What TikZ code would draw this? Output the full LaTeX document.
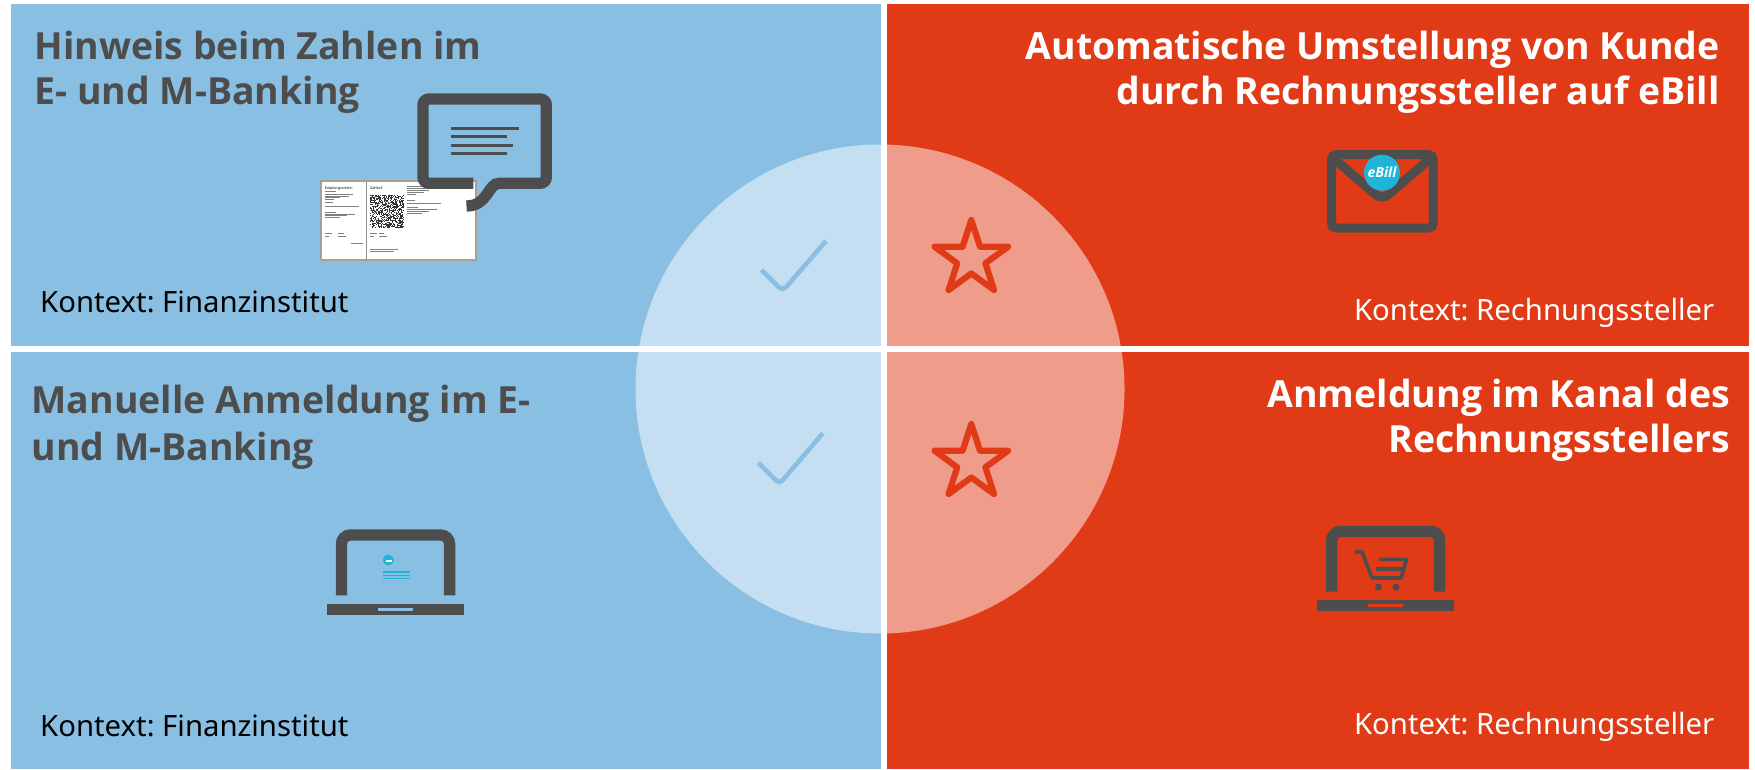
\documentclass[tikz,border=0pt]{standalone}
\usepackage{fontspec}
\setmainfont{Noto Sans}
\newfontfamily\headfont{Open Sans}
\definecolor{panelblue}{HTML}{89BFE3}
\definecolor{panelred}{HTML}{E03A17}
\definecolor{icongray}{HTML}{4D4D4D}
\definecolor{billcyan}{HTML}{1FB5D9}
\definecolor{billedge}{HTML}{A89F94}
\tikzstyle{heading}=[font=\headfont\fontsize{37.4}{44.8}\selectfont\bfseries, inner sep=0]
\tikzstyle{context}=[font=\fontsize{29.3}{34}\selectfont\frenchspacing, inner sep=0]
\tikzstyle{icon}=[draw=icongray, line width=11.3, rounded corners=6]
\tikzstyle{billbar}=[draw=black!50, line width=0.6]
\tikzstyle{tick}=[draw=panelblue, line width=4.6, rounded corners=5]
\tikzstyle{starmark}=[draw=panelred, line width=6.2, line join=round]

\begin{document}
\begin{tikzpicture}[x=1pt, y=-1pt]
      \useasboundingbox (0, 0) rectangle (1755, 769);

      \fill[panelblue] (11, 4) rectangle (881, 769);
      \fill[panelred] (881, 4) rectangle (1749, 769);
      \fill[white, opacity=0.5] (880, 389) circle (244.5);
      \fill[white] (881, 4) rectangle (887, 769);
      \fill[white] (11, 345.6) rectangle (1749, 352);

      \node[heading, anchor=base west, align=left, text=icongray] (hint) at (34.5, 104) {Hinweis beim Zahlen im\\E- und M-Banking};
      \node[heading, anchor=base east, align=right, text=white] (switch) at (1720, 104) {Automatische Umstellung von Kunde\\durch Rechnungssteller auf eBill};
      \node[heading, anchor=base west, align=left, text=icongray] (manual) at (31.5, 460) {Manuelle Anmeldung im E-\\[2pt]und M-Banking};
      \node[heading, anchor=base east, align=right, text=white] (channel) at (1730, 452) {Anmeldung im Kanal des\\Rechnungsstellers};

      \node[context, anchor=base west, text=black] (institute top) at (40, 312) {Kontext: Finanzinstitut};
      \node[context, anchor=base east, text=white] (biller top) at (1714.5, 320) {Kontext: Rechnungssteller};
      \node[context, anchor=base west, text=black] (institute bottom) at (40, 736) {Kontext: Finanzinstitut};
      \node[context, anchor=base east, text=white] (biller bottom) at (1714.5, 734) {Kontext: Rechnungssteller};

      \draw[draw=billedge, fill=white, line width=2] (320.7, 181) rectangle (475.7, 259.7);
      \draw[draw=black!45, line width=0.6] (366.3, 182) -- (366.3, 258.7);
      \node[font=\fontsize{3.6}{4}\selectfont, anchor=base west, inner sep=0] (receipt) at (324.6, 189) {Empfangsschein};
      \node[font=\fontsize{3.6}{4}\selectfont, anchor=base west, inner sep=0] (payment) at (370, 189) {Zahlteil};
      \foreach \barx/\bary/\barlen in {324.6/191.3/11, 324.6/194/28, 324.6/196/24, 324.6/197.7/15, 324.6/199.3/9,
        324.6/202.3/8, 324.6/206/34, 324.6/212/11, 324.6/214/30, 324.6/215.7/22, 324.6/217.5/15,
        324.6/233.3/7, 338/233.3/6, 324.6/236/4, 338/236/8, 351/243.7/12,
        370/233.3/7, 379/233.3/5, 370/236/4, 379/236/8, 370/249/28, 370/251/24,
        407.3/186/16, 407.3/188/26, 407.3/190/22, 407.3/192/17, 407.3/194/9,
        407.3/200/8, 407.3/203/34, 407.3/207/11, 407.3/209/30, 407.3/211/22, 407.3/213/15}
        \draw[billbar] (\barx, \bary) -- ++(\barlen, 0);
      \pgfmathsetseed{41}
      \foreach \qrx in {0,...,33}
        \foreach \qry in {0,...,33} {
          \pgfmathparse{rnd>0.5 ? 1 : 0}
          \ifnum\pgfmathresult=1
            \fill[black!80] (370 + \qrx, 195 + 0.98*\qry) rectangle ++(1, 1);
          \fi
        }

      \draw[icon] (473.3, 183.3) -- (423, 183.3) -- (423, 99) -- (546.3, 99) -- (546.3, 183.3) -- (505, 183.3)
        .. controls (488, 183.3) and (488, 206) .. (466.5, 206);
      \foreach \liney/\lineend in {128.3/519, 136.5/507, 145.3/513, 153.5/507}
        \draw[draw=icongray, line width=3] (451, \liney) -- (\lineend, \liney);

      \draw[icon, line width=9, rounded corners=5, fill=none] (1331.5, 154.5) rectangle (1433.2, 228.2);
      \draw[icon, line width=9, rounded corners=8] (1333, 158) -- (1382, 200) -- (1431, 158);
      \node[circle, fill=billcyan, minimum size=36, inner sep=0, text=white, font=\headfont\fontsize{14}{16}\selectfont\bfseries\itshape] (ebill) at (1382, 172.7) {eBill};

      \draw[icon, rounded corners=9] (341.4, 595.3) -- (341.4, 535) -- (449.6, 535) -- (449.6, 595.3);
      \fill[icongray] (327, 603.7) rectangle (464, 615.3);
      \fill[panelblue] (378, 608) rectangle (412.7, 611);
      \fill[billcyan] (388.3, 560) circle (5.5);
      \fill[white] (385.5, 559.5) rectangle (392, 561.5);
      \foreach \liney in {572, 575.3, 578.3}
        \draw[draw=billcyan, line width=1.6] (383, \liney) -- (410, \liney);

      \draw[icon, rounded corners=9] (1331.7, 591.7) -- (1331.7, 531.4) -- (1439.6, 531.4) -- (1439.6, 591.7);
      \fill[icongray] (1317.3, 600) rectangle (1454, 611);
      \fill[panelred] (1368.3, 604) rectangle (1403, 607);
      \draw[draw=icongray, line width=3.6, line join=round] (1355, 551.7) -- (1362, 551.7) -- (1372, 578) -- (1401, 578) -- (1406.5, 559.3) -- (1379, 559.3);
      \draw[draw=icongray, line width=3.6] (1376, 569) -- (1403, 569);
      \fill[icongray] (1378.5, 587) circle (3.5);
      \fill[icongray] (1396, 587) circle (3.5);

      \draw[tick] (761.7, 270) -- (782.7, 291) -- (826, 241);
      \draw[tick] (758.3, 462.7) -- (779.5, 484) -- (822.7, 433.3);

      \foreach \stary in {258.7, 462.7}
        \draw[starmark, shift={(971.3, \stary)}] (0, -38.7) -- (8.7, -12) -- (36.8, -12) -- (14.1, 4.6) -- (22.7, 31.3) -- (0, 14.8)
          -- (-22.7, 31.3) -- (-14.1, 4.6) -- (-36.8, -12) -- (-8.7, -12) -- cycle;
    \end{tikzpicture}
\end{document}
